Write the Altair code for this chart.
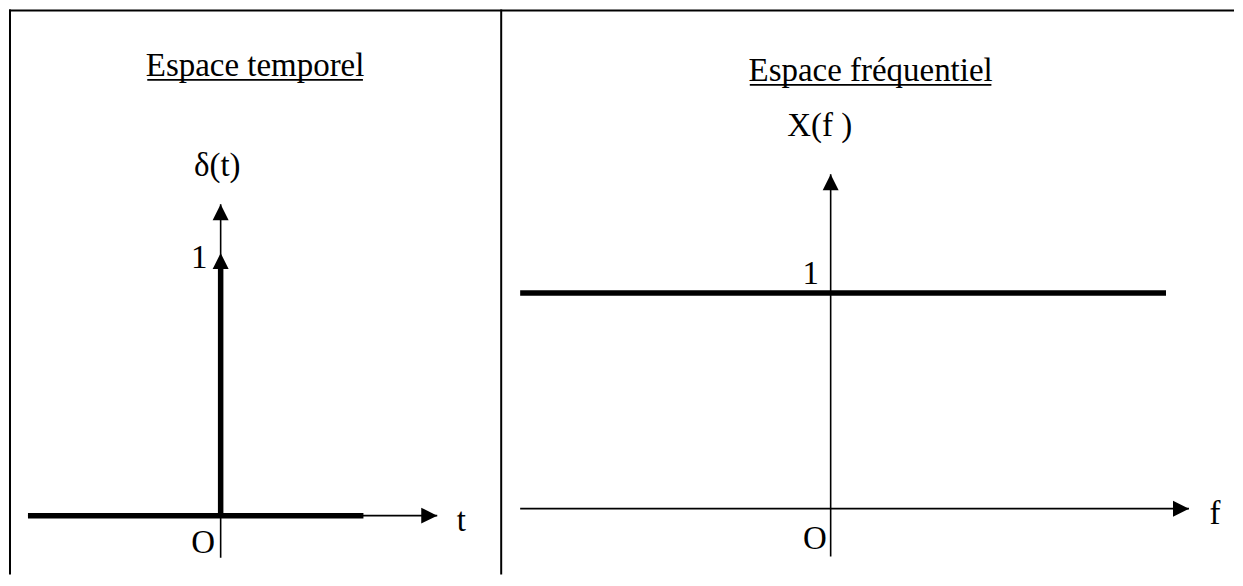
import altair as alt
import pandas as pd

FONT = "Liberation Serif"
FS = 33
INK = "black"

# ---------------- Left panel : Espace temporel (delta(t)) ----------------
L_title = "Espace temporel"
# thin axes (segments)
L_thin_x = [-1.0, 0.0]
L_thin_x2 = [1.124, 0.0]
L_thin_y = [0.0, -0.16]
L_thin_y2 = [0.0, 1.186]
# thick signal: delta(t)=0 baseline and the impulse stem
L_thick_x = [-1.0, 0.0]
L_thick_x2 = [0.741, 0.0]
L_thick_y = [0.0, 0.0]
L_thick_y2 = [0.0, 0.95]
# arrow heads (tip positions)
L_arrow_x = [1.124, 0.0, 0.0]
L_arrow_y = [0.0, 1.186, 1.0]
L_arrow_dir = ["right", "up", "up"]
# labels
L_lab_text = ["δ(t)", "1", "O", "t"]
L_lab_x = [-0.018, -0.111, -0.091, 1.249]
L_lab_y = [1.293, 0.943, -0.144, -0.057]

# ---------------- Right panel : Espace fréquentiel (X(f)) ----------------
R_title = "Espace fréquentiel"
R_thin_x = [-1.0, 0.0]
R_thin_x2 = [1.154, 0.0]
R_thin_y = [0.0, -0.222]
R_thin_y2 = [0.0, 1.551]
R_thick_x = [-1.0]
R_thick_x2 = [1.080]
R_thick_y = [1.0]
R_thick_y2 = [1.0]
R_arrow_x = [1.154, 0.0]
R_arrow_y = [0.0, 1.551]
R_arrow_dir = ["right", "up"]
R_lab_text = ["X(f )", "1", "O", "f"]
R_lab_x = [-0.035, -0.064, -0.051, 1.238]
R_lab_y = [1.727, 1.042, -0.185, -0.069]

UP = "M0,0L-1,2L1,2Z"
RIGHT = "M0,0L-2,-1L-2,1Z"

W = 1227
H = 566
SPLIT = 493  # divider position inside the chart


def panel_layers(xs, ys, thin, thick, arrows, labels):
    X = lambda f: alt.X(f, scale=xs, axis=None)
    Y = lambda f: alt.Y(f, scale=ys, axis=None)
    thin_l = alt.Chart(thin).mark_rule(color=INK, strokeWidth=1.6).encode(
        x=X("x:Q"), x2="x2:Q", y=Y("y:Q"), y2="y2:Q")
    thick_l = alt.Chart(thick).mark_rule(color=INK, strokeWidth=5.5).encode(
        x=X("x:Q"), x2="x2:Q", y=Y("y:Q"), y2="y2:Q")
    arrow_l = alt.Chart(arrows).mark_point(filled=True, opacity=1, size=256, color=INK, strokeWidth=0).encode(
        x=X("x:Q"), y=Y("y:Q"),
        shape=alt.Shape("dir:N", scale=alt.Scale(domain=["up", "right"], range=[UP, RIGHT]), legend=None))
    lab_l = alt.Chart(labels).mark_text(font=FONT, fontSize=FS, color=INK, align="center",
                                        baseline="alphabetic").encode(
        x=X("x:Q"), y=Y("y:Q"), text="text:N")
    return [thin_l, thick_l, arrow_l, lab_l]


def title_layers(title, tcx, tbase, tw):
    base = alt.Chart(pd.DataFrame({"k": [0]}))
    t = base.mark_text(font=FONT, fontSize=FS, color=INK, align="center", baseline="alphabetic").encode(
        x=alt.value(tcx), y=alt.value(tbase), text=alt.value(title))
    u = base.mark_rule(color=INK, strokeWidth=1.6).encode(
        x=alt.value(tcx - tw / 2), x2=alt.value(tcx + tw / 2), y=alt.value(tbase + 3.5))
    return [t, u]


left = panel_layers(
    alt.Scale(domain=[-1, 0], range=[19, 212], nice=False, zero=False),
    alt.Scale(domain=[0, 1], range=[507, 244], nice=False, zero=False),
    pd.DataFrame({"x": L_thin_x, "x2": L_thin_x2, "y": L_thin_y, "y2": L_thin_y2}),
    pd.DataFrame({"x": L_thick_x, "x2": L_thick_x2, "y": L_thick_y, "y2": L_thick_y2}),
    pd.DataFrame({"x": L_arrow_x, "y": L_arrow_y, "dir": L_arrow_dir}),
    pd.DataFrame({"text": L_lab_text, "x": L_lab_x, "y": L_lab_y}),
)

right = panel_layers(
    alt.Scale(domain=[-1, 0], range=[SPLIT + 19, SPLIT + 330], nice=False, zero=False),
    alt.Scale(domain=[0, 1], range=[500, 284], nice=False, zero=False),
    pd.DataFrame({"x": R_thin_x, "x2": R_thin_x2, "y": R_thin_y, "y2": R_thin_y2}),
    pd.DataFrame({"x": R_thick_x, "x2": R_thick_x2, "y": R_thick_y, "y2": R_thick_y2}),
    pd.DataFrame({"x": R_arrow_x, "y": R_arrow_y, "dir": R_arrow_dir}),
    pd.DataFrame({"text": R_lab_text, "x": R_lab_x, "y": R_lab_y}),
)

frame_base = alt.Chart(pd.DataFrame({"k": [0]}))
frame = [
    frame_base.mark_rule(color=INK, strokeWidth=2).encode(
        x=alt.value(0), x2=alt.value(W), y=alt.value(1)),
    frame_base.mark_rule(color=INK, strokeWidth=2).encode(
        x=alt.value(1), y=alt.value(0), y2=alt.value(H)),
    frame_base.mark_rule(color=INK, strokeWidth=2).encode(
        x=alt.value(SPLIT), y=alt.value(0), y2=alt.value(H)),
]

titles = title_layers(L_title, 246.5, 67, 216) + title_layers(R_title, SPLIT + 370, 72, 242)

chart = (
    alt.layer(*left, *right, *frame, *titles)
    .resolve_scale(x="independent", y="independent", shape="independent")
    .properties(width=W, height=H, padding=0)
    .configure_view(stroke=None)
)

chart.save("out.html", embed_options={"renderer": "svg", "actions": False})
